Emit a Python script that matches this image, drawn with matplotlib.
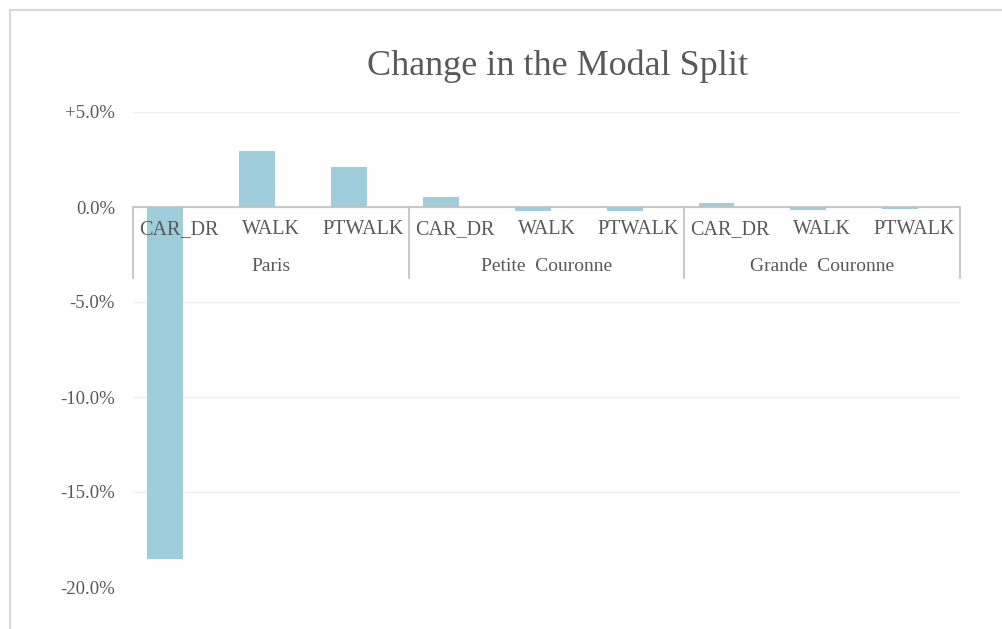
import matplotlib.pyplot as plt
import matplotlib.patches as patches

# data
groups = ['Paris', 'Petite  Couronne', 'Grande  Couronne']
modes = ['CAR_DR', 'WALK', 'PTWALK']
paris = [-18.5, 2.95, 2.1]
petite = [0.55, -0.2, -0.2]
grande = [0.2, -0.15, -0.1]
yticks = [-20, -15, -10, -5, 0, 5]
ytick_labels = ['-20.0%', '-15.0%', '-10.0%', '-5.0%', '0.0%', '+5.0%']

values = paris + petite + grande
labels = modes * len(groups)
bar_color = '#9fcddc'
text_color = '#595959'
plt.rcParams['font.family'] = ['Liberation Serif', 'DejaVu Serif']

fig = plt.figure(figsize=(10.02, 6.29), dpi=100)
W, H = 1002, 629

# chart frame
fig.patches.append(patches.Rectangle((10 / W, -0.1), 1.2, 1 - 10 / H + 0.1,
                                     transform=fig.transFigure, fill=False,
                                     edgecolor='#d0d0d0', linewidth=1.2))

ax = fig.add_axes([133 / W, 1 - 587 / H, (960 - 133) / W, (587 - 112) / H])
x = list(range(len(values)))
ax.bar([i - 0.15 for i in x], values, width=0.39, color=bar_color, zorder=2)

ax.set_xlim(-0.5, len(values) - 0.5)
ax.set_ylim(-20, 5)
ax.set_yticks(yticks)
ax.set_yticklabels(ytick_labels, color=text_color, fontsize=13.5)
ax.tick_params(axis='y', length=0, pad=13)
ax.set_xticks([])
for s in ax.spines.values():
    s.set_visible(False)
ax.grid(axis='y', color='#efefef', linewidth=1, zorder=0)

# zero axis line and group separators
ax.axhline(0, color='#bfbfbf', linewidth=1.2, zorder=3)
for b in [-0.5, 2.5, 5.5, 8.5]:
    ax.plot([b, b], [0, -3.75], color='#bfbfbf', linewidth=1.2, zorder=3, clip_on=False)

for i, lab in enumerate(labels):
    ax.text(i, -1.2, lab, ha='center', va='center', fontsize=14.5, color=text_color, zorder=4)
for g, name in enumerate(groups):
    ax.text(3 * g + 1, -3.15, name, ha='center', va='center', fontsize=14, color=text_color)

fig.text(558 / W, 1 - 66 / H, 'Change in the Modal Split', ha='center', va='center',
         fontsize=26, color=text_color)

fig.savefig('out.png', dpi=100)
